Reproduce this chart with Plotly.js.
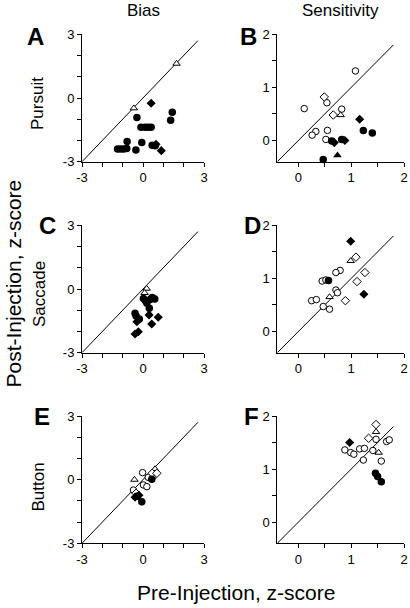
<!DOCTYPE html>
<html>
<head>
<meta charset="utf-8">
<script src="https://cdn.plot.ly/plotly-3.0.1.min.js"></script>
<style>html,body{margin:0;padding:0;background:#fff;}#chart{width:410px;height:608px;}</style>
</head>
<body>
<div id="chart"></div>
<script>
// ---------- tick labels ----------
const biasTickVals = [-3, -2, -1, 0, 1, 2, 3];
const biasTickText = ['-3', '', '', '0', '', '', '3'];
const sensTickVals = [0, 0.5, 1, 1.5, 2];
const sensTickText = ['0', '', '1', '', '2'];
const biasRange = [-3, 3];
const sensRange = [-0.4, 2];
const biasDiag = [-3, 2.7];
const sensDiag = [-0.4, 1.8];

const columnTitles = ['Bias', 'Sensitivity'];
const rowTitles = ['Pursuit', 'Saccade', 'Button'];
const panelLetters = ['A', 'B', 'C', 'D', 'E', 'F'];

// ---------- Panel A: Pursuit bias ----------
const A_fc_x = [-1.25, -1.1, -0.95, -0.8, -0.78, -0.35, -0.06, 0.45, 0.6, -0.3, -0.1, 0.1, 0.25, 0.4, 1.36, 1.44];
const A_fc_y = [-2.4, -2.4, -2.4, -2.38, -2.05, -2.45, -2.1, -2.22, -2.25, -0.92, -1.38, -1.38, -1.38, -1.38, -1.05, -0.67];
const A_fd_x = [0.4, 0.9, 0.64];
const A_fd_y = [-0.25, -2.48, -2.18];
const A_ot_x = [-0.45, 1.65];
const A_ot_y = [-0.48, 1.62];

// ---------- Panel B: Pursuit sensitivity ----------
const B_oc_x = [1.08, 0.54, 0.11, 0.82, 0.33, 0.26, 0.55, 0.52];
const B_oc_y = [1.31, 0.71, 0.60, 0.59, 0.17, 0.10, 0.19, 0.02];
const B_od_x = [0.49, 0.66];
const B_od_y = [0.82, 0.48];
const B_ot_x = [0.80];
const B_ot_y = [0.48];
const B_fc_x = [1.23, 1.40, 0.63, 0.82, 0.47];
const B_fc_y = [0.19, 0.14, -0.01, 0.02, -0.36];
const B_fd_x = [1.16, 0.68, 0.88];
const B_fd_y = [0.40, -0.04, 0.0];
const B_ft_x = [0.74];
const B_ft_y = [-0.28];

// ---------- Panel C: Saccade bias ----------
const C_ot_x = [0.18, 0.08];
const C_ot_y = [0.02, -0.18];
const C_fc_x = [0.02, 0.12, 0.35, 0.19, 0.45, 0.58, 0.31, -0.39, -0.34, -0.18];
const C_fc_y = [-0.45, -0.55, -0.5, -0.67, -0.4, -0.47, -0.91, -1.14, -1.27, -1.41];
const C_fd_x = [0.30, 0.75, 0.43, -0.30, -0.23, -0.39];
const C_fd_y = [-1.22, -1.33, -1.65, -1.54, -2.01, -2.12];

// ---------- Panel D: Saccade sensitivity ----------
const D_oc_x = [0.79, 0.71, 0.45, 0.52, 0.71, 0.74, 0.25, 0.34, 0.47, 0.59];
const D_oc_y = [1.15, 1.11, 0.95, 0.97, 0.78, 0.73, 0.58, 0.60, 0.47, 0.42];
const D_od_x = [1.09, 1.26, 1.11, 0.89];
const D_od_y = [1.40, 1.11, 0.94, 0.58];
const D_ot_x = [0.99, 0.59];
const D_ot_y = [1.33, 0.65];
const D_fc_x = [0.57];
const D_fc_y = [0.96];
const D_fd_x = [0.99, 1.24];
const D_fd_y = [1.70, 0.70];

// ---------- Panel E: Button bias ----------
const E_ot_x = [-0.42, 0.59];
const E_ot_y = [0.0, 0.50];
const E_oc_x = [-0.02, 0.26, 0.5, 0.02, 0.19, -0.47];
const E_oc_y = [0.33, 0.11, 0.15, -0.25, -0.33, -0.49];
const E_od_x = [0.45, 0.68, -0.34];
const E_od_y = [0.3, 0.3, -0.64];
const E_fc_x = [0.43, -0.06, -0.3];
const E_fc_y = [0.02, -1.04, -0.78];
const E_fd_x = [-0.39, -0.2];
const E_fd_y = [-0.83, -0.74];

// ---------- Panel F: Button sensitivity ----------
const F_oc_x = [1.47, 1.67, 1.72, 0.88, 0.99, 1.05, 1.16, 1.25, 1.41, 1.23, 1.57];
const F_oc_y = [1.56, 1.52, 1.55, 1.36, 1.31, 1.28, 1.38, 1.39, 1.35, 1.17, 1.15];
const F_od_x = [1.47, 1.33];
const F_od_y = [1.84, 1.58];
const F_ot_x = [1.47, 1.52];
const F_ot_y = [1.70, 1.31];
const F_fd_x = [0.97];
const F_fd_y = [1.50];
const F_fc_x = [1.46, 1.50, 1.57];
const F_fc_y = [0.92, 0.86, 0.76];

// ---------- build ----------
const W = 410, H = 608;
const FONT = "'Liberation Sans', Arial, Helvetica, sans-serif";
const colPx = [[82, 204], [277.3, 404]];
const rowPx = [[34.3, 161.7], [225.3, 352.7], [416, 543.3]];

const styles = {
  fc: {symbol: 'circle', size: 7.5, color: '#000', line: {color: '#000', width: 0}},
  fd: {symbol: 'diamond', size: 7, color: '#000', line: {color: '#000', width: 0}},
  ft: {symbol: 'triangle-up', size: 7.5, color: '#000', line: {color: '#000', width: 0}},
  oc: {symbol: 'circle', size: 6.5, color: '#fff', line: {color: '#000', width: 1}},
  od: {symbol: 'diamond', size: 6.5, color: '#fff', line: {color: '#000', width: 1}},
  ot: {symbol: 'triangle-up', size: 6.5, color: '#fff', line: {color: '#000', width: 1}}
};

const panels = [
  {diag: biasDiag, sets: [['ot', A_ot_x, A_ot_y], ['fc', A_fc_x, A_fc_y], ['fd', A_fd_x, A_fd_y]]},
  {diag: sensDiag, sets: [['oc', B_oc_x, B_oc_y], ['od', B_od_x, B_od_y], ['ot', B_ot_x, B_ot_y], ['fc', B_fc_x, B_fc_y], ['fd', B_fd_x, B_fd_y], ['ft', B_ft_x, B_ft_y]]},
  {diag: biasDiag, sets: [['ot', C_ot_x, C_ot_y], ['fc', C_fc_x, C_fc_y], ['fd', C_fd_x, C_fd_y]]},
  {diag: sensDiag, sets: [['oc', D_oc_x, D_oc_y], ['od', D_od_x, D_od_y], ['ot', D_ot_x, D_ot_y], ['fc', D_fc_x, D_fc_y], ['fd', D_fd_x, D_fd_y]]},
  {diag: biasDiag, sets: [['ot', E_ot_x, E_ot_y], ['oc', E_oc_x, E_oc_y], ['od', E_od_x, E_od_y], ['fc', E_fc_x, E_fc_y], ['fd', E_fd_x, E_fd_y]]},
  {diag: sensDiag, sets: [['oc', F_oc_x, F_oc_y], ['od', F_od_x, F_od_y], ['ot', F_ot_x, F_ot_y], ['fd', F_fd_x, F_fd_y], ['fc', F_fc_x, F_fc_y]]}
];

const traces = [];
const layout = {
  width: W, height: H,
  margin: {l: 0, r: 0, t: 0, b: 0},
  paper_bgcolor: '#fff', plot_bgcolor: '#fff',
  showlegend: false,
  font: {family: FONT, size: 13, color: '#000'},
  annotations: []
};

panels.forEach((p, i) => {
  const n = i + 1;
  const xa = n === 1 ? 'x' : 'x' + n;
  const ya = n === 1 ? 'y' : 'y' + n;
  const col = i % 2, row = Math.floor(i / 2);
  const isBias = col === 0;
  traces.push({x: p.diag, y: p.diag, xaxis: xa, yaxis: ya, mode: 'lines',
    line: {color: '#000', width: 1}, hoverinfo: 'skip'});
  p.sets.forEach(([k, xs, ys]) => {
    traces.push({x: xs, y: ys, xaxis: xa, yaxis: ya, mode: 'markers', type: 'scatter',
      marker: styles[k], cliponaxis: false});
  });
  const axCommon = {
    showgrid: false, zeroline: false, showline: true, linecolor: '#000', linewidth: 1,
    ticks: 'outside', ticklen: 4, tickwidth: 1, tickcolor: '#000',
    tickfont: {family: FONT, size: 13, color: '#000'},
    tickmode: 'array', fixedrange: true
  };
  layout['xaxis' + (n === 1 ? '' : n)] = Object.assign({}, axCommon, {
    domain: [colPx[col][0] / W, colPx[col][1] / W],
    anchor: ya, range: isBias ? biasRange : sensRange,
    tickvals: isBias ? biasTickVals : sensTickVals,
    ticktext: isBias ? biasTickText : sensTickText
  });
  layout['yaxis' + (n === 1 ? '' : n)] = Object.assign({}, axCommon, {
    domain: [1 - rowPx[row][1] / H, 1 - rowPx[row][0] / H],
    anchor: xa, range: isBias ? biasRange : sensRange,
    tickvals: isBias ? biasTickVals : sensTickVals,
    ticktext: isBias ? biasTickText : sensTickText
  });
});

function ann(text, px, py, size, opts) {
  layout.annotations.push(Object.assign({
    text: text, xref: 'paper', yref: 'paper', x: px / W, y: 1 - py / H,
    xanchor: 'center', yanchor: 'middle', showarrow: false,
    font: {family: FONT, size: size, color: '#000'}
  }, opts || {}));
}

ann(columnTitles[0], 143, 10.5, 17);
ann(columnTitles[1], 340, 10.5, 17);
ann(rowTitles[0], 38, 104, 17, {textangle: -90});
ann(rowTitles[1], 39, 294, 17, {textangle: -90});
ann(rowTitles[2], 37.5, 487, 17, {textangle: -90});
const letterPos = [[35.5, 36], [248.3, 36], [47.5, 225], [252.5, 225], [41.7, 416], [251.7, 416]];
panelLetters.forEach((L, i) => ann('<b>' + L + '</b>', letterPos[i][0], letterPos[i][1], 24));
ann('Post-Injection, z-score', 12.5, 284, 21, {textangle: -90});
ann('Pre-Injection, z-score', 236.5, 592, 21);

Plotly.newPlot('chart', traces, layout, {staticPlot: true, displayModeBar: false});
</script>
</body>
</html>
